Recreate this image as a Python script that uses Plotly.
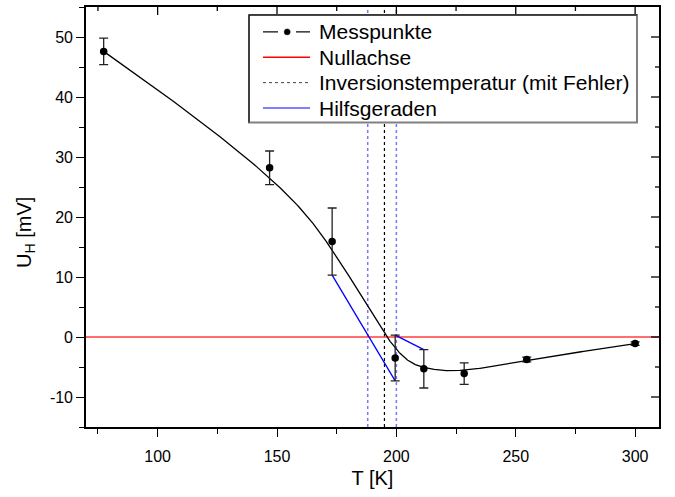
import numpy as np
import plotly.graph_objects as go

# Messdaten: Temperatur, Hallspannung und deren Fehler
T = [77.4, 146.9, 173.1, 199.5, 211.5, 228.4, 254.6, 300.0]
U_H = [47.6, 28.2, 15.9, -3.5, -5.3, -6.1, -3.75, -1.1]
U_err = [2.2, 2.8, 5.6, 3.8, 3.2, 1.8, 0.4, 0.3]

# Inversionstemperatur mit Fehlergrenzen [K]
T_inv = 195.0
T_inv_lo = 188.0
T_inv_hi = 200.0

x_range = [70, 310]
y_range = [-15, 55]
x_ticks = [100, 150, 200, 250, 300]
y_ticks = [-10, 0, 10, 20, 30, 40, 50]
y_ticklabels = ["-10", "0", "10", "20", "30", "40", "50"]
x_minor_step = 25
y_minor_step = 5

legend_labels = ["Messpunkte", "Nullachse",
                 "Inversionstemperatur (mit Fehler)", "Hilfsgeraden"]

FONT = "Arial, Liberation Sans, sans-serif"

# Seitenmaße und Ränder in Pixel
W, H = 675, 497
ML, MR, MT, MB = 86, 16, 5, 70
PW, PH = W - ML - MR, H - MT - MB


def fx(px):
    """Pixel-x -> Papierkoordinate der Zeichenfläche."""
    return (px - ML) / PW


def fy(py):
    """Pixel-y (von oben) -> Papierkoordinate der Zeichenfläche."""
    return 1 - (py - MT) / PH


def bspline_basis(knots, degree, t):
    """Cox-de-Boor-Rekursion, liefert Basisfunktionen als Matrix (len(t), n)."""
    nb = len(knots) - 1
    N = np.zeros((len(t), nb))
    for i in range(nb):
        N[:, i] = (knots[i] <= t) & (t < knots[i + 1])
    last = np.where(knots[:-1] < knots[1:])[0][-1]
    N[t >= knots[-1], last] = 1.0
    for d in range(1, degree + 1):
        Nn = np.zeros((len(t), nb - d))
        for i in range(nb - d):
            a = knots[i + d] - knots[i]
            b = knots[i + d + 1] - knots[i + 1]
            term = np.zeros(len(t))
            if a > 0:
                term += (t - knots[i]) / a * N[:, i]
            if b > 0:
                term += (knots[i + d + 1] - t) / b * N[:, i + 1]
            Nn[:, i] = term
        N = Nn
    return N


def bspline_curve(px, py, degree=3, n=500):
    m = len(px)
    knots = np.concatenate([np.zeros(degree + 1),
                            np.arange(1, m - degree),
                            np.full(degree + 1, m - degree)]).astype(float)
    t = np.linspace(0, m - degree, n)
    N = bspline_basis(knots, degree, t)
    return N @ np.asarray(px, float), N @ np.asarray(py, float)


cx, cy = bspline_curve(T, U_H)

# Hilfsgeraden: untere Fehlergrenzen (Punkt 3 -> 4) und obere (Punkt 4 -> 5)
g1_x = [T[2], T[3]]
g1_y = [U_H[2] - U_err[2], U_H[3] - U_err[3]]
g2_x = [T[3], T[4]]
g2_y = [U_H[3] + U_err[3], U_H[4] + U_err[4]]

RED = "rgba(255,60,60,0.75)"
BLUE_DOT = "rgba(60,60,255,0.7)"
BLUE = "#0000ff"

fig = go.Figure()

# Inversionstemperatur mit Fehlergrenzen
for tv in (T_inv_lo, T_inv_hi):
    fig.add_trace(go.Scatter(x=[tv, tv], y=y_range, mode="lines",
                             line=dict(color=BLUE_DOT, width=1.5, dash="dot"),
                             hoverinfo="skip"))
fig.add_trace(go.Scatter(x=[T_inv, T_inv], y=y_range, mode="lines",
                         line=dict(color="black", width=1.2, dash="dot")))

# Nullachse
fig.add_trace(go.Scatter(x=x_range, y=[0, 0], mode="lines",
                         line=dict(color=RED, width=2)))

# Hilfsgeraden
for gx, gy in ((g1_x, g1_y), (g2_x, g2_y)):
    fig.add_trace(go.Scatter(x=gx, y=gy, mode="lines",
                             line=dict(color=BLUE, width=1.3)))

# B-Spline durch die Messpunkte
fig.add_trace(go.Scatter(x=cx, y=cy, mode="lines",
                         line=dict(color="black", width=1.3),
                         hoverinfo="skip"))

# Messpunkte mit Fehlerbalken
fig.add_trace(go.Scatter(x=T, y=U_H, mode="markers",
                         marker=dict(color="black", size=7.5),
                         error_y=dict(type="data", array=U_err, visible=True,
                                      color="#222222", thickness=1.3, width=4.5)))

shapes = []

# Nach innen zeigende Striche am oberen und rechten Rahmen
TICK_STYLE = dict(color="black", width=1.3)
x_minor = [v for v in np.arange(x_range[0] - x_range[0] % x_minor_step, x_range[1] + 1, x_minor_step)
           if x_range[0] < v < x_range[1] and v not in x_ticks]
y_minor = [v for v in np.arange(y_range[0], y_range[1] + 1, y_minor_step)
           if y_range[0] < v < y_range[1] and v not in y_ticks]
for vals, ln in ((x_ticks, 8), (x_minor, 4)):
    for v in vals:
        shapes.append(dict(type="line", xref="x", yref="paper", x0=v, x1=v,
                           ysizemode="pixel", yanchor=1, y0=0, y1=-ln,
                           line=TICK_STYLE, layer="above"))
for vals, ln in ((y_ticks, 8), (y_minor, 4)):
    for v in vals:
        shapes.append(dict(type="line", xref="paper", yref="y", y0=v, y1=v,
                           xsizemode="pixel", xanchor=1, x0=0, x1=-ln,
                           line=TICK_STYLE, layer="above"))

# Legende: Kasten, Symbole und Beschriftungen
LX0, LY0, LX1, LY1 = 249, 13, 637, 121
row_y = [30, 55.5, 81, 106.5]
sym_x0, sym_x1 = 263, 310
text_x = 317

shapes += [
    dict(type="rect", x0=fx(LX0), x1=fx(LX1), y0=fy(LY0), y1=fy(LY1),
         xref="paper", yref="paper", fillcolor="white",
         line=dict(color="#808080", width=2), layer="above"),
    dict(type="line", x0=fx(LX0), x1=fx(LX1), y0=fy(LY0), y1=fy(LY0),
         xref="paper", yref="paper", line=dict(color="black", width=1), layer="above"),
    dict(type="line", x0=fx(LX0), x1=fx(LX0), y0=fy(LY0), y1=fy(LY1),
         xref="paper", yref="paper", line=dict(color="black", width=1), layer="above"),
]

# Messpunkte-Symbol: Strich, Punkt, Strich
ry = fy(row_y[0])
shapes += [
    dict(type="line", x0=fx(sym_x0), x1=fx(278), y0=ry, y1=ry, xref="paper", yref="paper",
         line=dict(color="black", width=1.2), layer="above"),
    dict(type="line", x0=fx(296), x1=fx(sym_x1), y0=ry, y1=ry, xref="paper", yref="paper",
         line=dict(color="black", width=1.2), layer="above"),
    dict(type="circle", x0=fx(284.2), x1=fx(290.2), y0=fy(row_y[0] + 3), y1=fy(row_y[0] - 3),
         xref="paper", yref="paper", fillcolor="black", line=dict(color="black", width=0.5),
         layer="above"),
]
sym_styles = [dict(color="red", width=1.3),
              dict(color="#444444", width=1, dash="dot"),
              dict(color=BLUE, width=1.2)]
for yy, st in zip(row_y[1:], sym_styles):
    shapes.append(dict(type="line", x0=fx(sym_x0), x1=fx(sym_x1), y0=fy(yy), y1=fy(yy),
                       xref="paper", yref="paper", line=st, layer="above"))

annotations = [
    dict(text=lab, x=fx(text_x), y=fy(yy), xref="paper", yref="paper",
         xanchor="left", yanchor="middle", showarrow=False,
         font=dict(family=FONT, size=21, color="black"))
    for lab, yy in zip(legend_labels, row_y)
]

# y-Achsenbeschriftung
annotations.append(dict(text="U<sub>H</sub> [mV]", textangle=-90,
                        x=fx(26), y=fy(232), xref="paper", yref="paper",
                        xanchor="center", yanchor="middle", showarrow=False,
                        font=dict(family=FONT, size=20, color="black")))

axis_common = dict(showgrid=False, zeroline=False, showline=True, mirror=True,
                   linecolor="black", linewidth=1.6,
                   tickcolor="black", tickwidth=1.3)

fig.update_layout(
    width=W, height=H,
    margin=dict(l=ML, r=MR, t=MT, b=MB),
    paper_bgcolor="white", plot_bgcolor="white",
    font=dict(family=FONT, size=16, color="black"),
    showlegend=False,
    shapes=shapes,
    annotations=annotations,
    xaxis=dict(range=x_range, tickvals=x_ticks, ticks="outside", ticklen=8,
               minor=dict(dtick=x_minor_step, tick0=0, ticks="outside", ticklen=5,
                          tickcolor="black", tickwidth=1.3),
               title=dict(text="T [K]", font=dict(size=20), standoff=7),
               ticklabelstandoff=6,
               tickfont=dict(size=16), **axis_common),
    yaxis=dict(range=y_range, tickvals=y_ticks, ticktext=y_ticklabels,
               ticks="outside", ticklen=8,
               minor=dict(dtick=y_minor_step, tick0=0, ticks="outside", ticklen=5,
                          tickcolor="black", tickwidth=1.3),
               tickfont=dict(size=16), **axis_common),
)

fig.write_html("out.html")
